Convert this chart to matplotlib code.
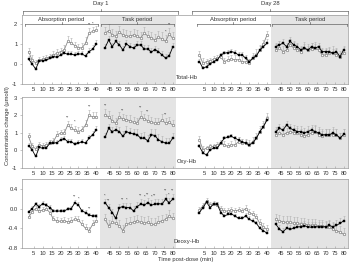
import matplotlib
matplotlib.use("Agg")
import matplotlib.pyplot as plt
import matplotlib.transforms as mtransforms

plt.rcParams['font.family'] = ['Liberation Sans', 'DejaVu Sans']
plt.rcParams['axes.unicode_minus'] = False

# ---------------- data ----------------
t_abs = [2, 4, 6, 8, 10, 12, 14, 16, 18, 20, 22, 24, 26, 28, 30, 32, 34, 36, 38, 40]
t_task = [42, 44, 46, 48, 50, 52, 54, 56, 58, 60, 62, 64, 66, 68, 70, 72, 74, 76, 78, 80]
tick_times = [5, 10, 15, 20, 25, 30, 35, 40, 45, 50, 55, 60, 65, 70, 75, 80]

measures = ["Total-Hb", "Oxy-Hb", "Deoxy-Hb"]
days = ["Day 1", "Day 28"]

# Total-Hb
tot_d1_black = [0.24, 0.0, -0.25, 0.15, 0.17, 0.2, 0.28, 0.37, 0.34, 0.45, 0.54, 0.49, 0.49, 0.45, 0.5, 0.5, 0.4, 0.62, 0.74, 1.0,
                0.82, 1.2, 0.87, 1.13, 0.96, 0.7, 1.0, 0.87, 0.8, 0.95, 0.95, 0.75, 0.75, 0.6, 0.72, 0.62, 0.45, 0.3, 0.4, 0.85]
tot_d1_gray = [0.62, 0.2, 0.05, 0.2, 0.24, 0.29, 0.37, 0.45, 0.54, 0.62, 0.7, 1.13, 1.05, 0.92, 0.82, 0.8, 1.04, 1.55, 1.63, 1.68,
               1.55, 1.66, 1.46, 1.38, 1.6, 1.45, 1.38, 1.4, 1.45, 1.38, 1.3, 1.55, 1.4, 1.3, 1.2, 1.35, 1.25, 1.13, 1.5, 1.28]
tot_d28_black = [0.12, -0.22, -0.13, 0.0, 0.12, 0.2, 0.45, 0.54, 0.57, 0.62, 0.57, 0.45, 0.45, 0.29, 0.12, 0.29, 0.4, 0.7, 0.87, 1.04,
                 0.87, 0.96, 1.04, 0.87, 1.13, 0.96, 0.87, 0.7, 0.8, 0.7, 0.87, 0.8, 0.87, 0.62, 0.62, 0.62, 0.54, 0.62, 0.37, 0.7]
tot_d28_gray = [0.45, 0.03, 0.12, 0.17, 0.24, 0.28, 0.35, 0.12, 0.2, 0.25, 0.2, 0.22, 0.12, 0.1, 0.05, 0.3, 0.45, 0.7, 1.0, 1.46,
                0.7, 0.8, 0.62, 0.7, 0.96, 0.8, 0.7, 0.62, 0.8, 0.7, 0.75, 0.8, 0.7, 0.45, 0.45, 0.54, 0.54, 0.45, 0.37, 0.54]

# Oxy-Hb
oxy_d1_black = [0.28, 0.04, -0.34, 0.17, 0.13, 0.15, 0.42, 0.42, 0.45, 0.6, 0.68, 0.5, 0.5, 0.36, 0.42, 0.5, 0.42, 0.7, 0.9, 1.17,
                0.75, 1.26, 1.08, 1.17, 1.08, 0.8, 1.08, 0.98, 0.95, 0.9, 0.7, 0.7, 0.55, 0.9, 0.85, 0.6, 0.5, 0.42, 0.4, 0.7]
oxy_d1_gray = [0.8, 0.23, 0.1, 0.32, 0.25, 0.32, 0.42, 0.5, 0.9, 0.98, 0.98, 1.45, 1.26, 1.17, 1.08, 1.17, 1.45, 2.0, 1.92, 1.92,
               2.0, 1.92, 1.7, 1.55, 1.9, 1.8, 1.75, 1.7, 1.6, 1.55, 1.92, 1.8, 1.7, 1.6, 1.55, 1.55, 1.75, 1.55, 1.6, 1.45]
oxy_d28_black = [0.23, -0.15, -0.25, 0.04, 0.13, 0.13, 0.42, 0.7, 0.75, 0.8, 0.7, 0.6, 0.5, 0.42, 0.32, 0.42, 0.7, 1.08, 1.36, 1.74,
                 1.08, 1.26, 1.17, 1.45, 1.26, 1.17, 1.08, 1.08, 1.0, 1.08, 1.17, 1.08, 1.0, 0.9, 0.9, 0.9, 1.0, 0.9, 0.7, 0.92]
oxy_d28_gray = [0.6, 0.04, 0.13, 0.23, 0.23, 0.32, 0.42, 0.32, 0.23, 0.32, 0.32, 0.5, 0.42, 0.42, 0.32, 0.5, 0.7, 1.08, 1.36, 1.83,
                0.9, 1.0, 0.9, 1.0, 1.08, 1.0, 1.0, 0.9, 0.8, 0.9, 1.0, 1.08, 0.9, 0.8, 0.9, 0.9, 0.9, 0.9, 0.7, 0.9]

# Deoxy-Hb
deo_d1_black = [-0.07, 0.0, 0.09, 0.04, 0.1, 0.07, 0.02, -0.05, -0.05, -0.05, -0.05, -0.01, 0.0, 0.12, 0.07, -0.05, -0.08, -0.13, -0.15, -0.15,
                0.12, 0.02, -0.08, -0.2, 0.02, 0.04, 0.02, 0.02, -0.05, 0.04, 0.09, 0.07, 0.12, 0.07, 0.09, 0.1, 0.09, 0.19, 0.12, 0.19]
deo_d1_gray = [-0.18, -0.07, 0.0, -0.05, -0.03, -0.01, -0.08, -0.22, -0.25, -0.26, -0.25, -0.27, -0.25, -0.22, -0.23, -0.32, -0.4, -0.45, -0.32, -0.25,
               -0.22, -0.35, -0.28, -0.3, -0.35, -0.45, -0.32, -0.3, -0.28, -0.25, -0.28, -0.3, -0.28, -0.32, -0.32, -0.27, -0.25, -0.22, -0.15, -0.2]
deo_d28_black = [-0.08, 0.02, 0.13, 0.02, 0.09, 0.09, -0.08, -0.15, -0.12, -0.11, -0.15, -0.2, -0.2, -0.15, -0.22, -0.25, -0.3, -0.4, -0.45, -0.5,
                 -0.32, -0.42, -0.47, -0.4, -0.42, -0.4, -0.37, -0.37, -0.35, -0.37, -0.38, -0.37, -0.37, -0.37, -0.37, -0.34, -0.37, -0.34, -0.3, -0.25]
deo_d28_gray = [-0.03, 0.05, 0.15, 0.08, 0.1, 0.08, -0.01, -0.05, -0.05, -0.03, -0.05, -0.03, -0.05, 0.0, -0.08, -0.12, -0.18, -0.3, -0.38, -0.42,
                -0.22, -0.25, -0.27, -0.28, -0.28, -0.3, -0.3, -0.32, -0.32, -0.33, -0.34, -0.34, -0.35, -0.35, -0.37, -0.38, -0.42, -0.45, -0.48, -0.52]

# upper error bars (SE)
tot_err_black = [0.15, 0.12, 0.12, 0.1, 0.1, 0.1, 0.12, 0.12, 0.12, 0.15, 0.15, 0.15, 0.15, 0.15, 0.15, 0.15, 0.15, 0.18, 0.2, 0.2,
                 0.2, 0.2, 0.2, 0.2, 0.2, 0.2, 0.2, 0.2, 0.2, 0.2, 0.2, 0.2, 0.2, 0.2, 0.2, 0.2, 0.2, 0.2, 0.2, 0.2]
tot_err_gray = [0.2, 0.25, 0.15, 0.15, 0.15, 0.15, 0.15, 0.2, 0.2, 0.2, 0.25, 0.25, 0.25, 0.2, 0.2, 0.25, 0.3, 0.25, 0.2, 0.2,
                0.3, 0.35, 0.3, 0.25, 0.3, 0.3, 0.3, 0.25, 0.3, 0.3, 0.3, 0.3, 0.25, 0.3, 0.3, 0.3, 0.35, 0.3, 0.3, 0.3]
oxy_err_black = [0.15, 0.12, 0.12, 0.12, 0.12, 0.12, 0.15, 0.15, 0.15, 0.15, 0.15, 0.15, 0.15, 0.15, 0.15, 0.15, 0.15, 0.2, 0.2, 0.2,
                 0.25, 0.25, 0.25, 0.25, 0.25, 0.3, 0.3, 0.3, 0.3, 0.3, 0.3, 0.35, 0.35, 0.35, 0.35, 0.35, 0.35, 0.3, 0.3, 0.3]
oxy_err_gray = [0.2, 0.2, 0.15, 0.15, 0.15, 0.15, 0.2, 0.2, 0.2, 0.2, 0.25, 0.25, 0.25, 0.25, 0.25, 0.25, 0.3, 0.3, 0.3, 0.3,
                0.35, 0.35, 0.3, 0.3, 0.3, 0.3, 0.3, 0.3, 0.3, 0.3, 0.35, 0.3, 0.3, 0.3, 0.3, 0.3, 0.35, 0.3, 0.3, 0.3]
deo_err_black = [0.05, 0.05, 0.05, 0.05, 0.05, 0.05, 0.05, 0.05, 0.05, 0.05, 0.05, 0.05, 0.05, 0.06, 0.06, 0.05, 0.05, 0.05, 0.05, 0.05,
                 0.08, 0.08, 0.08, 0.08, 0.08, 0.08, 0.1, 0.1, 0.1, 0.1, 0.1, 0.1, 0.1, 0.1, 0.1, 0.1, 0.1, 0.1, 0.1, 0.1]
deo_err_gray = [0.06, 0.06, 0.06, 0.06, 0.06, 0.06, 0.07, 0.07, 0.07, 0.07, 0.07, 0.07, 0.07, 0.07, 0.07, 0.08, 0.08, 0.08, 0.08, 0.08,
                0.12, 0.12, 0.12, 0.12, 0.12, 0.12, 0.12, 0.12, 0.12, 0.12, 0.12, 0.12, 0.12, 0.12, 0.12, 0.12, 0.12, 0.12, 0.12, 0.12]

series = {
    "Total-Hb": {"Day 1": (tot_d1_black, tot_d1_gray), "Day 28": (tot_d28_black, tot_d28_gray)},
    "Oxy-Hb": {"Day 1": (oxy_d1_black, oxy_d1_gray), "Day 28": (oxy_d28_black, oxy_d28_gray)},
    "Deoxy-Hb": {"Day 1": (deo_d1_black, deo_d1_gray), "Day 28": (deo_d28_black, deo_d28_gray)},
}
errors = {
    "Total-Hb": (tot_err_black, tot_err_gray),
    "Oxy-Hb": (oxy_err_black, oxy_err_gray),
    "Deoxy-Hb": (deo_err_black, deo_err_gray),
}
ylims = {"Total-Hb": (-1, 2.45), "Oxy-Hb": (-1, 3.05), "Deoxy-Hb": (-0.8, 0.6)}
yticks = {"Total-Hb": [-1, 0, 1, 2], "Oxy-Hb": [-1, 0, 1, 2, 3], "Deoxy-Hb": [-0.8, -0.4, 0.0, 0.4]}
ytick_labels = {"Total-Hb": ["-1", "0", "1", "2"], "Oxy-Hb": ["-1", "0", "1", "2", "3"],
                "Deoxy-Hb": ["-0.8", "-0.4", "0.0", "0.4"]}

# significance marks on Day 1 (time, label, series index to sit above)
sig_marks = {
    "Total-Hb": [(36, "**", 1), (38, "*", 1), (76, "*", 1), (78, "**", 1)],
    "Oxy-Hb": [(24, "**", 1), (28, "*", 1), (36, "**", 1), (42, "**", 1), (52, "**", 1),
               (62, "**", 1), (66, "**", 1), (76, "**", 1)],
    "Deoxy-Hb": [(28, "**", 0), (30, "*", 0), (36, "**", 0), (42, "*", 0), (44, "**", 0),
                 (52, "**", 0), (54, "*", 0), (62, "**", 0), (64, "*", 0), (66, "**", 0),
                 (68, "*", 0), (70, "**", 0), (76, "**", 0), (78, "*", 0), (80, "**", 0)],
}

# ---------------- layout helpers ----------------
TASK_SHIFT = 3      # visual gap between the two periods
DAY_SHIFT = 96      # Day 28 block placed to the right of Day 1


def xpos(t, day_idx):
    return t + (TASK_SHIFT if t > 40 else 0) + DAY_SHIFT * day_idx


W, H = 350, 264
rows_px = [(15, 84), (97, 168), (179, 248)]
left_px, right_px = 22, 348
XMIN, XMAX = -1.7, 181.5

spine_c = "#9a9a9a"
text_c = "#333333"
shade_c = "#e4e4e4"
fs = 4.2

fig = plt.figure(figsize=(W / 100, H / 100), dpi=100)

axes = []
for r, m in enumerate(measures):
    top, bot = rows_px[r]
    ax = fig.add_axes([left_px / W, 1 - bot / H, (right_px - left_px) / W, (bot - top) / H])
    axes.append(ax)
    ax.set_xlim(XMIN, XMAX)
    ax.set_ylim(*ylims[m])
    # task-period shading
    for d in range(2):
        x0 = xpos(40, d) + 2
        x1 = xpos(80, d) + 2 if d == 0 else XMAX
        ax.axvspan(x0, x1, color=shade_c, lw=0, zorder=0)

    for d, day in enumerate(days):
        blk, gry = series[m][day]
        eb, eg = errors[m]
        for seg_t, sl in ((t_abs, slice(0, 20)), (t_task, slice(20, 40))):
            xs = [xpos(t, d) for t in seg_t]
            yb = blk[sl]
            yg = gry[sl]
            ax.errorbar(xs, yg, yerr=[[0] * len(xs), eg[sl]], fmt="none", ecolor="#b5b5b5",
                        elinewidth=0.45, capsize=0.9, capthick=0.45, zorder=2)
            ax.errorbar(xs, yb, yerr=[[0] * len(xs), eb[sl]], fmt="none", ecolor="#b5b5b5",
                        elinewidth=0.45, capsize=0.9, capthick=0.45, zorder=2)
            ax.plot(xs, yg, color="#8a8a8a", lw=0.6, marker="o", ms=1.8, mfc="white",
                    mec="#7a7a7a", mew=0.45, zorder=3)
            ax.plot(xs, yb, color="black", lw=0.6, marker="s", ms=1.7, mfc="black",
                    mec="black", mew=0.3, zorder=4)

    # significance asterisks (Day 1)
    blk, gry = series[m]["Day 1"]
    eb, eg = errors[m]
    all_t = t_abs + t_task
    ystep = (ylims[m][1] - ylims[m][0]) * 0.02
    for t, lab, which in sig_marks[m]:
        i = all_t.index(t)
        base = (gry[i] + eg[i]) if which == 1 else (blk[i] + eb[i])
        ax.text(xpos(t, 0), base + ystep, lab, fontsize=3.0, ha="center", va="bottom",
                color=text_c, zorder=5)

    # ticks
    xt, xl = [], []
    for d in range(2):
        for t in tick_times:
            xt.append(xpos(t, d))
            xl.append(str(t))
    ax.set_xticks(xt)
    ax.set_xticklabels(xl)
    ax.set_yticks(yticks[m])
    ax.set_yticklabels(ytick_labels[m])
    ax.tick_params(axis="x", direction="in", length=1.8, width=0.4, pad=2.0,
                   labelsize=fs, colors=spine_c, labelcolor=text_c)
    ax.tick_params(axis="y", direction="out", length=1.8, width=0.4, pad=1.5,
                   labelsize=fs, colors=spine_c, labelcolor=text_c)
    for s in ax.spines.values():
        s.set_color(spine_c)
        s.set_linewidth(0.5)

    # measure label
    ax.text(xpos(83, 0) + 5, 0.09, m, transform=mtransforms.blended_transform_factory(ax.transData, ax.transAxes),
            fontsize=fs, ha="center", va="center", color=text_c, zorder=6)

# ---------------- brackets ----------------
ax0 = axes[0]
tr = mtransforms.blended_transform_factory(ax0.transData, ax0.transAxes)


def bracket(ax, x0, x1, y, label, ty, tick=0.03):
    kw = dict(transform=tr, color="#555555", lw=0.45, clip_on=False, zorder=6)
    ax.plot([x0, x1], [y, y], **kw)
    ax.plot([x0, x0], [y, y - tick], **kw)
    ax.plot([x1, x1], [y, y - tick], **kw)
    xm = (x0 + x1) / 2
    ax.plot([xm, xm], [y, y + tick], **kw)
    ax.text(xm, ty, label, transform=tr, fontsize=fs, ha="center", va="center",
            color=text_c, clip_on=False)


# Day brackets above top axes
bracket(ax0, -1.0, 86.0, 1.055, "Day 1", 1.17, tick=0.035)
bracket(ax0, 94.0, 181.3, 1.055, "Day 28", 1.17, tick=0.035)
# period brackets inside top axes
bracket(ax0, 0.0, 41.0, 0.87, "Absorption period", 0.94, tick=0.025)
bracket(ax0, 42.5, 83.5, 0.87, "Task period", 0.94, tick=0.025)
bracket(ax0, 96.5, 137.5, 0.87, "Absorption period", 0.94, tick=0.025)
bracket(ax0, 139.0, 181.0, 0.87, "Task period", 0.94, tick=0.025)

fig.text(8 / W, 1 - 126 / H, "Concentration change (\u03bcmol/l)", rotation=90,
         fontsize=fs, ha="center", va="center", color=text_c)
fig.text(186 / W, 1 - 259 / H, "Time post-dose (min)", fontsize=fs, ha="center",
         va="center", color=text_c)

fig.savefig("out.png", dpi=100)
